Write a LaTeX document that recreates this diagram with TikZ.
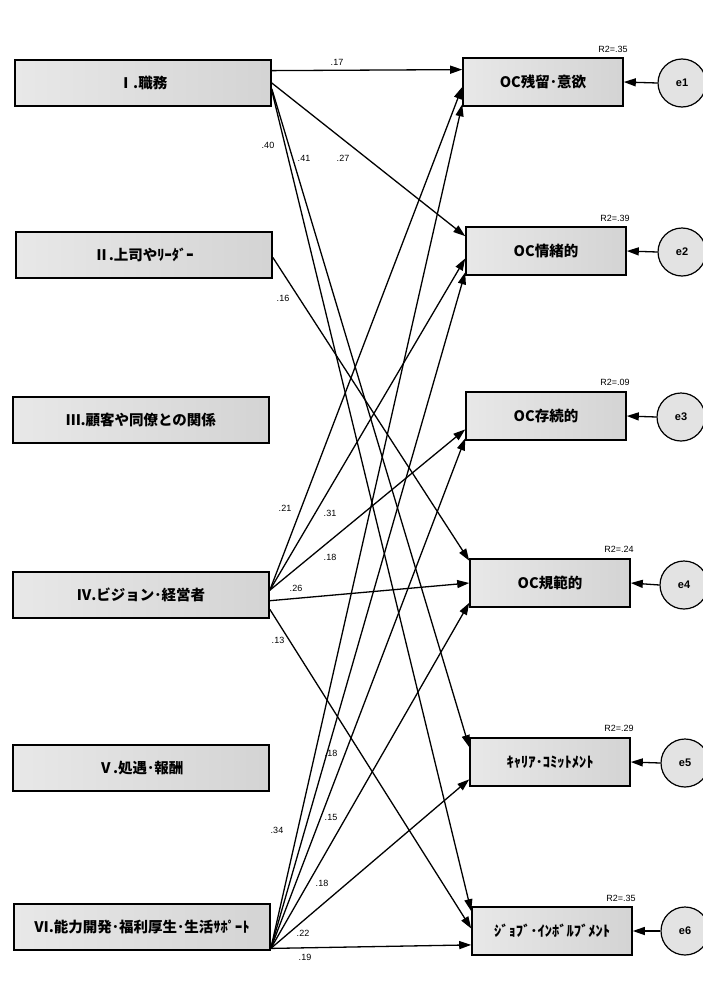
\documentclass[tikz,border=0pt]{standalone}
\usepackage{fontspec}
\setmainfont{Liberation Sans}
\newfontfamily\jp{Noto Sans CJK JP}
\usetikzlibrary{arrows.meta,calc}
\newcommand\pathedge[4]{\draw[conn] ($(#1.north east)!#2!(#1.south east)$) -- ($(#3.north west)!#4!(#3.south west)$);}
\newcommand\errarrow[2]{\draw[conn] (#1.west) -- (#2.east);}
\begin{document}
\begin{tikzpicture}[x=1pt,y=-1pt,
  lbox/.style={draw=black, line width=1.6pt, left color=gray!18, right color=gray!34,
    minimum width=256pt, minimum height=46pt, inner sep=0pt,
    font=\jp\bfseries\fontsize{14.5}{16}\selectfont},
  rbox/.style={lbox, minimum width=160pt, minimum height=48pt},
  err/.style={circle, draw=black, line width=1.2pt, fill=gray!22, minimum size=48pt, inner sep=0pt,
    font=\bfseries\fontsize{11}{13}\selectfont},
  conn/.style={line width=1.3pt, -{Triangle[length=12pt,width=8pt]}},
  coef/.style={font=\fontsize{9}{11}\selectfont, inner sep=0pt},
  rsq/.style={font=\fontsize{9}{11}\selectfont, inner sep=0pt}]
\useasboundingbox (0,0) rectangle (703,1001);
\fill[white] (0,0) rectangle (703,1001);
% left boxes
\node[lbox] (L1) at (143,83) {Ⅰ.職務};
\node[lbox] (L2) at (144,255) {Ⅱ.上司やﾘｰﾀﾞｰ};
\node[lbox] (L3) at (141,420) {Ⅲ.顧客や同僚との関係};
\node[lbox] (L4) at (141,595) {Ⅳ.ビジョン･経営者};
\node[lbox] (L5) at (141,768) {Ⅴ.処遇･報酬};
\node[lbox] (L6) at (142,927) {Ⅵ.能力開発･福利厚生･生活ｻﾎﾟｰﾄ};
% right boxes
\node[rbox] (R1) at (543,82) {OC残留･意欲};
\node[rbox] (R2) at (546,251) {OC情緒的};
\node[rbox] (R3) at (546,416) {OC存続的};
\node[rbox] (R4) at (550,583) {OC規範的};
\node[rbox] (R5) at (550,762) {ｷｬﾘｱ･ｺﾐｯﾄﾒﾝﾄ};
\node[rbox] (R6) at (552,931) {ｼﾞｮﾌﾞ･ｲﾝﾎﾞﾙﾌﾞﾒﾝﾄ};
% error terms
\node[err] (e1) at (682,83) {e1};
\node[err] (e2) at (682,252) {e2};
\node[err] (e3) at (681,417) {e3};
\node[err] (e4) at (684,585) {e4};
\node[err] (e5) at (685,763) {e5};
\node[err] (e6) at (685,931) {e6};
\errarrow{e1}{R1}
\errarrow{e2}{R2}
\errarrow{e3}{R3}
\errarrow{e4}{R4}
\errarrow{e5}{R5}
\errarrow{e6}{R6}
% paths from I
\pathedge{L1}{0.24}{R1}{0.25}
\pathedge{L1}{0.5}{R2}{0.2}
\pathedge{L1}{0.62}{R5}{0.2}
\pathedge{L1}{0.66}{R6}{0.1}
% from II
\pathedge{L2}{0.55}{R4}{0.05}
% from IV
\pathedge{L4}{0.4}{R1}{0.6}
\pathedge{L4}{0.4}{R2}{0.65}
\pathedge{L4}{0.4}{R3}{0.77}
\pathedge{L4}{0.62}{R4}{0.5}
\pathedge{L4}{0.8}{R6}{0.45}
% from VI
\pathedge{L6}{0.95}{R1}{0.95}
\pathedge{L6}{0.95}{R2}{0.93}
\pathedge{L6}{0.95}{R3}{0.95}
\pathedge{L6}{0.95}{R4}{0.9}
\pathedge{L6}{0.95}{R5}{0.85}
\pathedge{L6}{0.95}{R6}{0.78}
% coefficients
\node[coef] (c1) at (337,62) {.17};
\node[coef] (c2) at (343,158) {.27};
\node[coef] (c3) at (268,145) {.40};
\node[coef] (c4) at (304,158) {.41};
\node[coef] (c5) at (283,298) {.16};
\node[coef] (c6) at (285,508) {.21};
\node[coef] (c7) at (330,513) {.31};
\node[coef] (c8) at (330,557) {.18};
\node[coef] (c9) at (296,588) {.26};
\node[coef] (c10) at (278,640) {.13};
\node[coef] (c11) at (331,753) {.18};
\node[coef] (c12) at (277,830) {.34};
\node[coef] (c13) at (331,817) {.15};
\node[coef] (c14) at (322,883) {.18};
\node[coef] (c15) at (303,933) {.22};
\node[coef] (c16) at (305,957) {.19};
% R2 labels
\node[rsq] (r1) at (613,49) {R2=.35};
\node[rsq] (r2) at (615,218) {R2=.39};
\node[rsq] (r3) at (615,382) {R2=.09};
\node[rsq] (r4) at (619,549) {R2=.24};
\node[rsq] (r5) at (619,728) {R2=.29};
\node[rsq] (r6) at (621,898) {R2=.35};
\end{tikzpicture}
\end{document}
